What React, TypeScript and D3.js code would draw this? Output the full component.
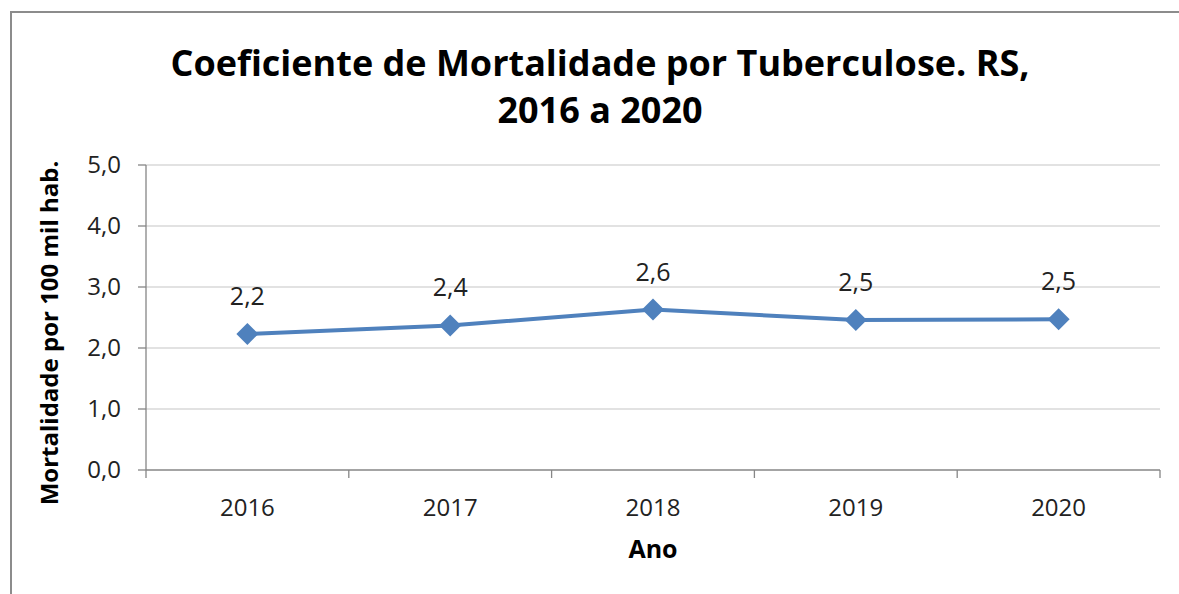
import React from "react";
import * as d3 from "d3";

const years = ["2016", "2017", "2018", "2019", "2020"];
const values = [2.23, 2.37, 2.63, 2.46, 2.47];
const labels = ["2,2", "2,4", "2,6", "2,5", "2,5"];
const yTicks = [0, 1, 2, 3, 4, 5];

const W = 1179;
const H = 594;
const FONT = "'Open Sans', 'Noto Sans', sans-serif";

export default function App() {
  const left = 146, right = 1160, top = 165, bottom = 470;
  const x = d3.scaleBand<string>().domain(years).range([left, right]).padding(0);
  const y = d3.scaleLinear().domain([0, 5]).range([bottom, top]);
  const cx = (d: string) => (x(d) as number) + x.bandwidth() / 2;
  const line = d3.line<number>().x((_, i) => cx(years[i])).y((v) => y(v));
  const fmt = (v: number) => v.toFixed(1).replace(".", ",");
  const boundaries = [...years.map((d) => x(d) as number), right];
  const dm = 11;

  return (
    <svg width={W} height={H} style={{ position: "absolute", left: 0, top: 0, background: "#fff" }}>
      <rect x={0} y={0} width={W} height={H} fill="#fff" />
      <rect x={11} y={12} width={W + 20} height={H + 20} fill="none" stroke="#8c8c8c" strokeWidth={2} />
      <text x={600} y={76} textAnchor="middle" fontFamily={FONT} fontWeight="bold" fontSize={36} fill="#000">
        Coeficiente de Mortalidade por Tuberculose. RS,
      </text>
      <text x={600} y={123} textAnchor="middle" fontFamily={FONT} fontWeight="bold" fontSize={36} fill="#000">
        2016 a 2020
      </text>
      {yTicks.map((t) => (
        <g key={t}>
          {t > 0 && <line x1={left} x2={right} y1={y(t)} y2={y(t)} stroke="#d9d9d9" strokeWidth={1.3} />}
          <line x1={left - 8} x2={left} y1={y(t)} y2={y(t)} stroke="#868686" strokeWidth={1.3} />
          <text x={121} y={y(t) + 8} textAnchor="end" fontFamily={FONT} fontSize={24} fill="#222">
            {fmt(t)}
          </text>
        </g>
      ))}
      <line x1={left} x2={left} y1={top} y2={bottom} stroke="#868686" strokeWidth={1.3} />
      <line x1={left} x2={right} y1={bottom} y2={bottom} stroke="#868686" strokeWidth={1.3} />
      {boundaries.map((b, i) => (
        <line key={i} x1={b} x2={b} y1={bottom} y2={bottom + 8} stroke="#868686" strokeWidth={1.3} />
      ))}
      {years.map((d) => (
        <text key={d} x={cx(d)} y={516} textAnchor="middle" fontFamily={FONT} fontSize={24} fill="#222">
          {d}
        </text>
      ))}
      <text x={653} y={558} textAnchor="middle" fontFamily={FONT} fontWeight="bold" fontSize={25} fill="#000">
        Ano
      </text>
      <text
        transform={`translate(58, ${333}) rotate(-90)`}
        textAnchor="middle"
        fontFamily={FONT}
        fontWeight="bold"
        fontSize={24}
        fill="#000"
      >
        Mortalidade por 100 mil hab.
      </text>
      <path d={line(values) || ""} fill="none" stroke="#4f81bd" strokeWidth={4} strokeLinejoin="round" />
      {values.map((v, i) => {
        const px = cx(years[i]);
        const py = y(v);
        return (
          <g key={i}>
            <path d={`M${px},${py - dm}L${px + dm},${py}L${px},${py + dm}L${px - dm},${py}Z`} fill="#4f81bd" />
            <text x={px} y={py - 29} textAnchor="middle" fontFamily={FONT} fontSize={25} fill="#222">
              {labels[i]}
            </text>
          </g>
        );
      })}
    </svg>
  );
}
